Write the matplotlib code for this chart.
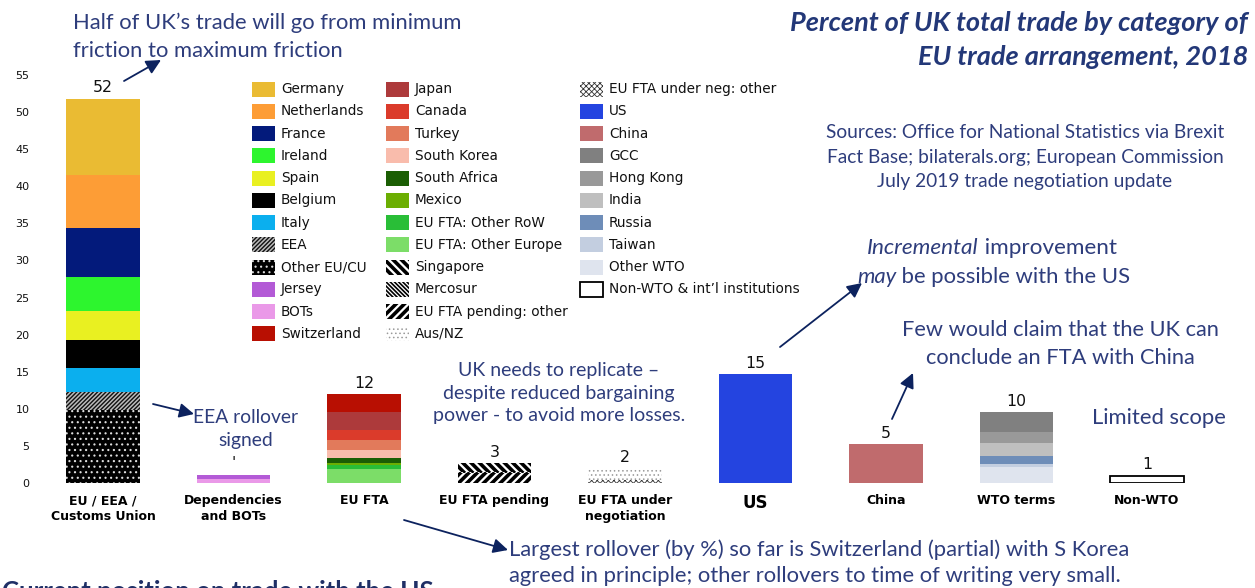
import matplotlib
matplotlib.use('Agg')
import matplotlib.pyplot as plt
from matplotlib.patches import Rectangle, FancyArrowPatch
import numpy as np

# ---------------- DATA ----------------
categories = ['EU / EEA /\nCustoms Union', 'Dependencies\nand BOTs', 'EU FTA',
              'EU FTA pending', 'EU FTA under\nnegotiation', 'US', 'China', 'WTO terms', 'Non-WTO']

# segments for each category, listed bottom to top
eu_names = ['Other EU/CU', 'EEA', 'Italy', 'Belgium', 'Spain', 'Ireland', 'France', 'Netherlands', 'Germany']
eu_values = [9.8, 2.4, 3.3, 3.8, 3.9, 4.6, 6.6, 7.1, 10.3]
dep_names = ['BOTs', 'Jersey']
dep_values = [0.5, 0.6]
fta_names = ['EU FTA: Other Europe', 'EU FTA: Other RoW', 'Mexico', 'South Africa', 'South Korea',
             'Turkey', 'Canada', 'Japan', 'Switzerland']
fta_values = [1.9, 0.5, 0.3, 0.7, 1.05, 1.35, 1.4, 2.4, 2.4]
pend_names = ['EU FTA pending: other', 'Mercosur', 'Singapore']
pend_values = [1.35, 0.1, 1.2]
neg_names = ['EU FTA under neg: other', 'Aus/NZ']
neg_values = [0.4, 1.6]
us_names = ['US']
us_values = [14.7]
china_names = ['China']
china_values = [5.25]
wto_names = ['Other WTO', 'Taiwan', 'Russia', 'India', 'Hong Kong', 'GCC']
wto_values = [2.16, 0.4, 1.08, 1.75, 1.5, 2.7]
nonwto_names = ['Non-WTO & int\u2019l institutions']
nonwto_values = [1.0]

total_labels = ['52', "'", '12', '3', '2', '15', '5', '10', '1']

legend_col1 = ['Germany', 'Netherlands', 'France', 'Ireland', 'Spain', 'Belgium', 'Italy', 'EEA',
               'Other EU/CU', 'Jersey', 'BOTs', 'Switzerland']
legend_col2 = ['Japan', 'Canada', 'Turkey', 'South Korea', 'South Africa', 'Mexico',
               'EU FTA: Other RoW', 'EU FTA: Other Europe', 'Singapore', 'Mercosur',
               'EU FTA pending: other', 'Aus/NZ']
legend_col3 = ['EU FTA under neg: other', 'US', 'China', 'GCC', 'Hong Kong', 'India', 'Russia',
               'Taiwan', 'Other WTO', 'Non-WTO & int\u2019l institutions']

# ---------------- STYLES ----------------
S = {}
def solid(name, c):
    S[name] = dict(fc=c, ec=c, hatch=None, hlw=1.0, lw=0)
def hatched(name, fc, ec, hatch, hlw):
    S[name] = dict(fc=fc, ec=ec, hatch=hatch, hlw=hlw, lw=0)

solid('Germany', '#EABB33'); solid('Netherlands', '#FD9D36'); solid('France', '#031A7B')
solid('Ireland', '#2DF52E'); solid('Spain', '#E9F021'); solid('Belgium', '#000000')
solid('Italy', '#0BAFEE')
hatched('EEA', '#111111', '#BBBBBB', '////////', 1.1)
hatched('Other EU/CU', '#000000', '#DDDDDD', '...', 0.8)
solid('Jersey', '#B35AD6'); solid('BOTs', '#EA99E8'); solid('Switzerland', '#B80F02')
solid('Japan', '#AD3A3B'); solid('Canada', '#DB3B2B'); solid('Turkey', '#E27A5B')
solid('South Korea', '#F9BCAC'); solid('South Africa', '#1B5E04'); solid('Mexico', '#6BAE02')
solid('EU FTA: Other RoW', '#29BE37'); solid('EU FTA: Other Europe', '#7CDD68')
hatched('Singapore', '#FFFFFF', '#000000', '\\\\\\\\', 2.6)
hatched('Mercosur', '#FFFFFF', '#000000', '\\\\\\\\\\\\\\\\', 1.2)
hatched('EU FTA pending: other', '#FFFFFF', '#000000', '////', 2.6)
hatched('Aus/NZ', '#FFFFFF', '#9A9A9A', '....', 0.6)
hatched('EU FTA under neg: other', '#FFFFFF', '#333333', 'xxxxxx', 0.6)
solid('US', '#2444E0'); solid('China', '#C06B6D'); solid('GCC', '#808080')
solid('Hong Kong', '#999999'); solid('India', '#BFBFBF'); solid('Russia', '#6E8DB8')
solid('Taiwan', '#C3CEE0'); solid('Other WTO', '#DFE4EE')
S['Non-WTO & int\u2019l institutions'] = dict(fc='#FFFFFF', ec='#000000', hatch=None, hlw=1.0, lw=1.3)

def set_hlw(p, lw):
    if hasattr(p, 'set_hatch_linewidth'):
        try:
            p.set_hatch_linewidth(lw)
        except Exception:
            pass

TXT = '#2E3D7C'
ARROW = '#0C225E'
W, H = 1255, 588

fig = plt.figure(figsize=(W / 100, H / 100), dpi=100)

def P(x, y):
    return (x / W, 1 - y / H)

# axes geometry (pixels)
y_bottom_px, px_per_unit, ymax = 483, 7.42, 56
ax_left_px, ax_width_px = 35, 1165
first_px, step_px = 103, 130.5
a = -(first_px - ax_left_px) / step_px
b = a + ax_width_px / step_px
ax = fig.add_axes([ax_left_px / W, (H - y_bottom_px) / H, ax_width_px / W, ymax * px_per_unit / H])
ax.set_xlim(a, b)
ax.set_ylim(0, ymax)
for s in ax.spines.values():
    s.set_visible(False)
ax.patch.set_alpha(0)

sets = [(eu_names, eu_values), (dep_names, dep_values), (fta_names, fta_values),
        (pend_names, pend_values), (neg_names, neg_values), (us_names, us_values),
        (china_names, china_values), (wto_names, wto_values), (nonwto_names, nonwto_values)]

for i, ((names, values), lab) in enumerate(zip(sets, total_labels)):
    bottom = 0
    for n, v in zip(names, values):
        st = S[n]
        bars = ax.bar(i, v, bottom=bottom, width=0.56, color=st['fc'], edgecolor=st['ec'],
                      hatch=st['hatch'], linewidth=st['lw'])
        for p in bars:
            set_hlw(p, st['hlw'])
        bottom += v
    ax.text(i, bottom + 0.45, lab, ha='center', va='bottom', fontsize=11.3, color='#111111')

ax.set_yticks(np.arange(0, 56, 5))
ax.tick_params(axis='y', length=0, labelsize=8, labelcolor='#111111', pad=4)
ax.set_xticks(range(len(categories)))
ax.set_xticklabels(categories, fontsize=9, fontweight='bold', linespacing=1.3)
ax.get_xticklabels()[5].set_fontsize(12)
ax.tick_params(axis='x', length=0, pad=8)

# ---------------- LEGEND (manual grid) ----------------
col_patch_x = [252, 386, 580]
row0_y, row_step = 89, 22.27
patch_w, patch_h = 23, 15
for c, col in enumerate([legend_col1, legend_col2, legend_col3]):
    for r, n in enumerate(col):
        st = S[n]
        yc = row0_y + r * row_step
        x0, y0 = P(col_patch_x[c], yc + patch_h / 2)
        rect = Rectangle((x0, y0), patch_w / W, patch_h / H, transform=fig.transFigure,
                         facecolor=st['fc'], edgecolor=st['ec'], hatch=st['hatch'],
                         linewidth=st['lw'])
        set_hlw(rect, st['hlw'])
        fig.add_artist(rect)
        fig.text(*P(col_patch_x[c] + patch_w + 6, yc), n, ha='left', va='center',
                 fontsize=9.8, color='#111111')

# ---------------- TEXT ----------------
AF = 'Lato'
fig.text(*P(1248, 23), 'Percent of UK total trade by category of', ha='right', va='center',
         fontsize=19.5, fontweight='bold', style='italic', color='#233878', family=AF)
fig.text(*P(1248, 57), 'EU trade arrangement, 2018', ha='right', va='center',
         fontsize=19.5, fontweight='bold', style='italic', color='#233878', family=AF)

fig.text(*P(1025, 157), 'Sources: Office for National Statistics via Brexit\nFact Base; bilaterals.org; European Commission\nJuly 2019 trade negotiation update',
         ha='center', va='center', fontsize=13.8, color=TXT, family=AF, linespacing=1.52)

fig.text(*P(73, 37), 'Half of UK\u2019s trade will go from minimum\nfriction to maximum friction',
         ha='left', va='center', fontsize=15.8, color=TXT, family=AF, linespacing=1.5)

fig.text(*P(246, 429), 'EEA rollover\nsigned', ha='center', va='center', fontsize=13.9,
         color=TXT, family=AF, linespacing=1.48)

fig.text(*P(559, 393), 'UK needs to replicate \u2013\ndespite reduced bargaining\npower - to avoid more losses.',
         ha='center', va='center', fontsize=14, color=TXT, family=AF, linespacing=1.41)

renderer = fig.canvas.get_renderer()
def mixed(x, y, parts, size):
    for txt, st in parts:
        t = fig.text(*P(x, y), txt, ha='left', va='center', fontsize=size, color=TXT,
                     family=AF, style=st)
        bb = t.get_window_extent(renderer)
        x = x + bb.width

mixed(867, 248, [('Incremental', 'italic'), (' improvement', 'normal')], 16.2)
mixed(857, 277, [('may', 'italic'), (' be possible with the US', 'normal')], 15.9)

fig.text(*P(1060, 344), 'Few would claim that the UK can\nconclude an FTA with China', ha='center',
         va='center', fontsize=15.7, color=TXT, family=AF, linespacing=1.5)

fig.text(*P(1159, 418), 'Limited scope', ha='center', va='center', fontsize=15.8, color=TXT, family=AF)

fig.text(*P(509, 563), 'Largest rollover (by %) so far is Switzerland (partial) with S Korea\nagreed in principle; other rollovers to time of writing very small.',
         ha='left', va='center', fontsize=15.8, color=TXT, family=AF, linespacing=1.35)

fig.text(*P(2, 600), 'Current position on trade with the US', ha='left', va='baseline',
         fontsize=18.5, fontweight='bold', color='#1F2F66', family=AF)

# ---------------- ARROWS ----------------
def arrow(x0, y0, x1, y1):
    fig.add_artist(FancyArrowPatch(
        P(x0, y0), P(x1, y1), transform=fig.transFigure, arrowstyle='-|>',
        mutation_scale=22, color=ARROW, lw=1.3, shrinkA=0, shrinkB=0))

arrow(124, 81, 161, 60)
arrow(153, 404, 194, 414)
arrow(780, 347, 862, 283)
arrow(892, 419, 913, 373)
arrow(404, 520, 508, 550)

fig.savefig('out.png', dpi=100)
